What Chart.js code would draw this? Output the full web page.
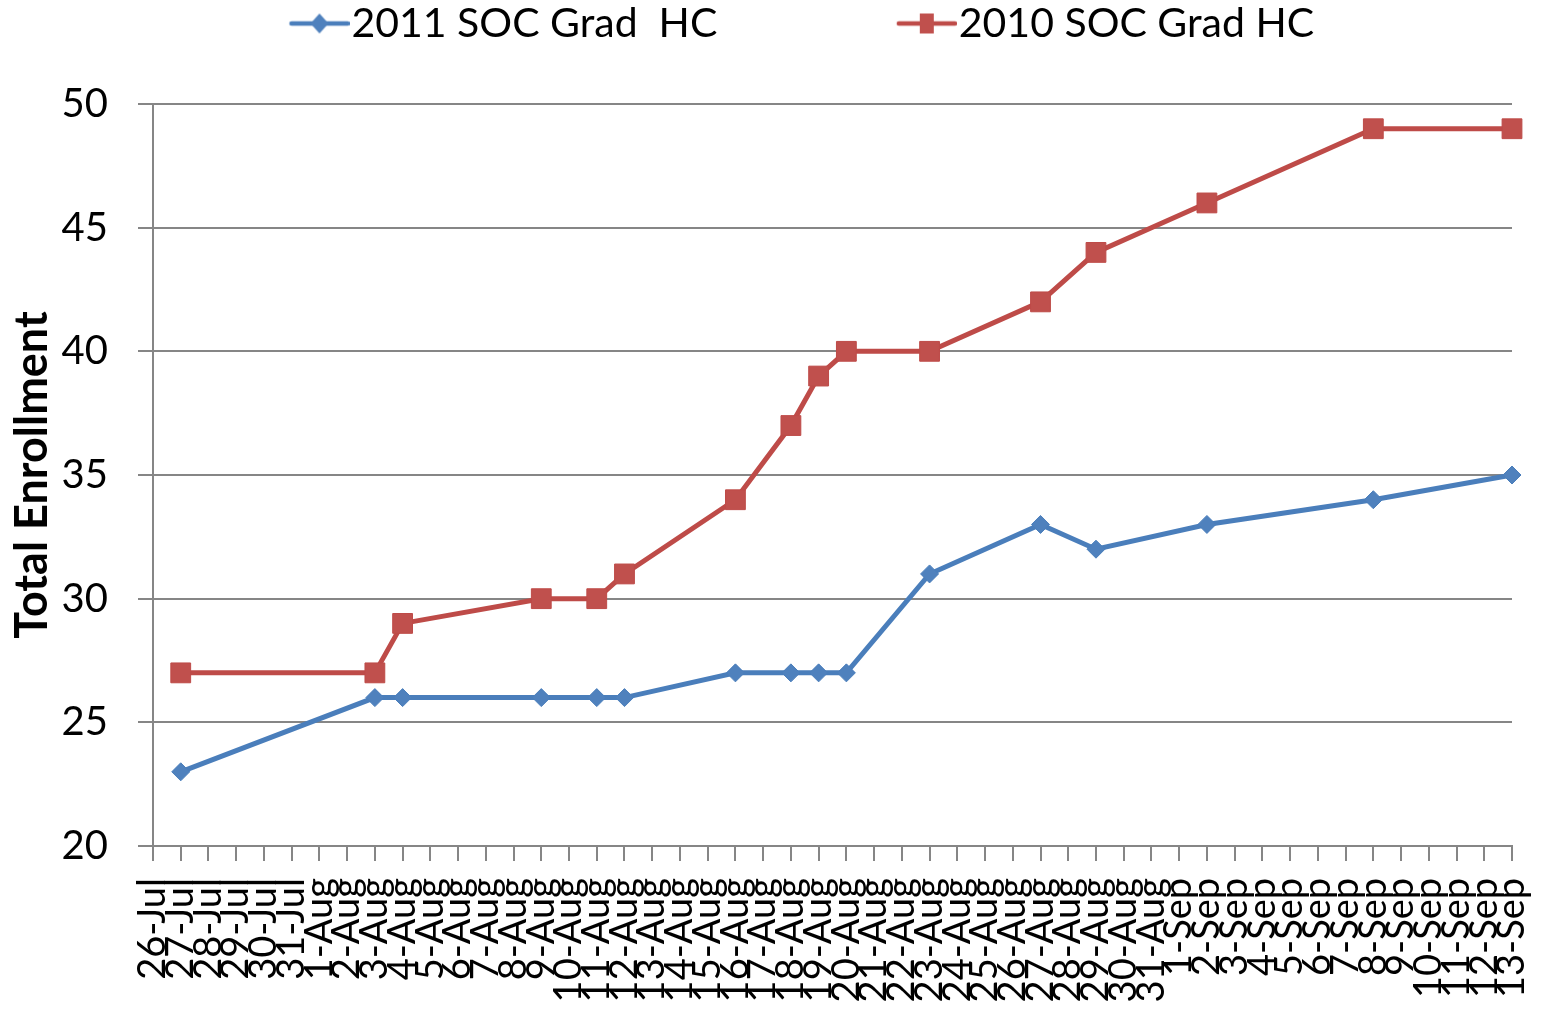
<!DOCTYPE html>
<html>
<head>
<meta charset="utf-8">
<script src="https://cdn.jsdelivr.net/npm/chart.js@4.4.1/dist/chart.umd.min.js"></script>
<style>
  body { margin: 0; background: #fff; }
  #wrap { width: 1545px; height: 1017px; }
</style>
</head>
<body>
<div id="wrap"><canvas id="chart-enrollment" width="1545" height="1017"></canvas></div>
<script>
var dayLabels = ["26-Jul", "27-Jul", "28-Jul", "29-Jul", "30-Jul", "31-Jul",
    "1-Aug", "2-Aug", "3-Aug", "4-Aug", "5-Aug", "6-Aug", "7-Aug", "8-Aug", "9-Aug", "10-Aug",
    "11-Aug", "12-Aug", "13-Aug", "14-Aug", "15-Aug", "16-Aug", "17-Aug", "18-Aug", "19-Aug", "20-Aug",
    "21-Aug", "22-Aug", "23-Aug", "24-Aug", "25-Aug", "26-Aug", "27-Aug", "28-Aug", "29-Aug", "30-Aug", "31-Aug",
    "1-Sep", "2-Sep", "3-Sep", "4-Sep", "5-Sep", "6-Sep", "7-Sep", "8-Sep", "9-Sep", "10-Sep",
    "11-Sep", "12-Sep", "13-Sep"];

// days on which a count was taken
var sampleDays = ["27-Jul", "3-Aug", "4-Aug", "9-Aug", "11-Aug", "12-Aug", "16-Aug", "18-Aug",
    "19-Aug", "20-Aug", "23-Aug", "27-Aug", "29-Aug", "2-Sep", "8-Sep", "13-Sep"];
var soc2011 = [23, 26, 26, 26, 26, 26, 27, 27, 27, 27, 31, 33, 32, 33, 34, 35];
var soc2010 = [27, 27, 29, 30, 30, 31, 34, 37, 39, 40, 40, 42, 44, 46, 49, 49];

var seriesNames = ["2011 SOC Grad  HC", "2010 SOC Grad HC"];
var yTicks = [20, 25, 30, 35, 40, 45, 50];

var gridColor = "#868686";
var fontFamily = "Lato";
var legendFont = 41;
var legendPad = 3;
var legendBoxW = 218;

function toPoints(values) {
    return sampleDays.map(function (d, i) { return { x: d, y: values[i] }; });
}

// legend icon: short line with the marker in the middle, sitting at the right end of the canvas
function legendIcon(color, fill, marker) {
    var c = document.createElement("canvas");
    c.width = legendBoxW + legendFont - 4;
    c.height = 24;
    var ctx = c.getContext("2d");
    var x0 = c.width - 60, cy = 12;
    ctx.strokeStyle = color;
    ctx.lineWidth = 4.5;
    ctx.lineCap = "round";
    ctx.beginPath();
    ctx.moveTo(x0 + 2, cy);
    ctx.lineTo(c.width - 2, cy);
    ctx.stroke();
    ctx.fillStyle = fill;
    var mx = x0 + 30;
    ctx.beginPath();
    if (marker == "diamond") {
        ctx.moveTo(mx, cy - 10);
        ctx.lineTo(mx + 9, cy);
        ctx.lineTo(mx, cy + 10);
        ctx.lineTo(mx - 9, cy);
        ctx.closePath();
    } else {
        ctx.rect(mx - 7, cy - 10, 14, 20);
    }
    ctx.fill();
    return c;
}

var legendIcons = [
    legendIcon("#4A7EBB", "#4F81BD", "diamond"),
    legendIcon("#BE4B48", "#C0504D", "square")
];

// push the legend row to the right like the original
var legendShift = {
    id: "legendShift",
    afterLayout: function (c) {
        c.legend.left = 110;
    }
};

var ctx = document.getElementById("chart-enrollment").getContext("2d");
var chart = new Chart(ctx, {
    type: "line",
    data: {
        labels: dayLabels,
        datasets: [{
            label: seriesNames[0],
            data: toPoints(soc2011),
            borderColor: "#4A7EBB",
            backgroundColor: "#4F81BD",
            borderWidth: 5,
            tension: 0,
            pointStyle: "rectRot",
            pointRadius: 9,
            pointBorderWidth: 1,
            pointBorderColor: "#4A7EBB",
            pointBackgroundColor: "#4F81BD",
            fill: false
        }, {
            label: seriesNames[1],
            data: toPoints(soc2010),
            borderColor: "#BE4B48",
            backgroundColor: "#C0504D",
            borderWidth: 5,
            tension: 0,
            pointStyle: "rect",
            pointRadius: 14,
            pointBorderWidth: 1,
            pointBorderColor: "#BE4B48",
            pointBackgroundColor: "#C0504D",
            fill: false
        }]
    },
    plugins: [legendShift],
    options: {
        responsive: false,
        animation: false,
        events: [],
        layout: {
            padding: 0
        },
        plugins: {
            tooltip: { enabled: false },
            legend: {
                display: true,
                position: "top",
                align: "start",
                weight: 3000,
                labels: {
                    usePointStyle: true,
                    pointStyleWidth: legendBoxW,
                    padding: legendPad,
                    color: "#000",
                    font: { family: fontFamily, size: legendFont },
                    generateLabels: function (c) {
                        var items = Chart.defaults.plugins.legend.labels.generateLabels(c);
                        items.forEach(function (item, i) { item.pointStyle = legendIcons[i]; item.rotation = 0; });
                        return items;
                    }
                }
            },
            // empty spacer between legend and plot
            subtitle: {
                display: true,
                text: "",
                font: { size: 10 },
                padding: { top: 0, bottom: 38 }
            }
        },
        scales: {
            x: {
                type: "category",
                offset: false,
                grid: {
                    display: true,
                    drawOnChartArea: false,
                    drawTicks: true,
                    tickLength: 15,
                    color: gridColor,
                    lineWidth: 2
                },
                border: { display: true, color: gridColor, width: 2 },
                ticks: {
                    autoSkip: false,
                    minRotation: 90,
                    maxRotation: 90,
                    padding: 17,
                    color: "#000",
                    font: { family: fontFamily, size: 38 }
                },
                afterFit: function (scale) {
                    scale.height = 171;
                    scale.paddingRight = 33;
                }
            },
            y: {
                min: 20,
                max: 50,
                afterBuildTicks: function (scale) {
                    scale.ticks = yTicks.map(function (v) { return { value: v }; });
                },
                grid: {
                    color: gridColor,
                    lineWidth: 2,
                    drawTicks: true,
                    tickLength: 15
                },
                border: { display: true, color: gridColor, width: 2 },
                ticks: {
                    padding: 30,
                    color: "#000",
                    font: { family: fontFamily, size: 40 }
                },
                title: {
                    display: true,
                    text: "Total Enrollment",
                    color: "#000",
                    font: { family: fontFamily, size: 45, weight: "bold" },
                    padding: { top: 5, bottom: 0 }
                },
                afterFit: function (scale) {
                    scale.width = 153;
                }
            }
        }
    }
});
</script>
</body>
</html>
